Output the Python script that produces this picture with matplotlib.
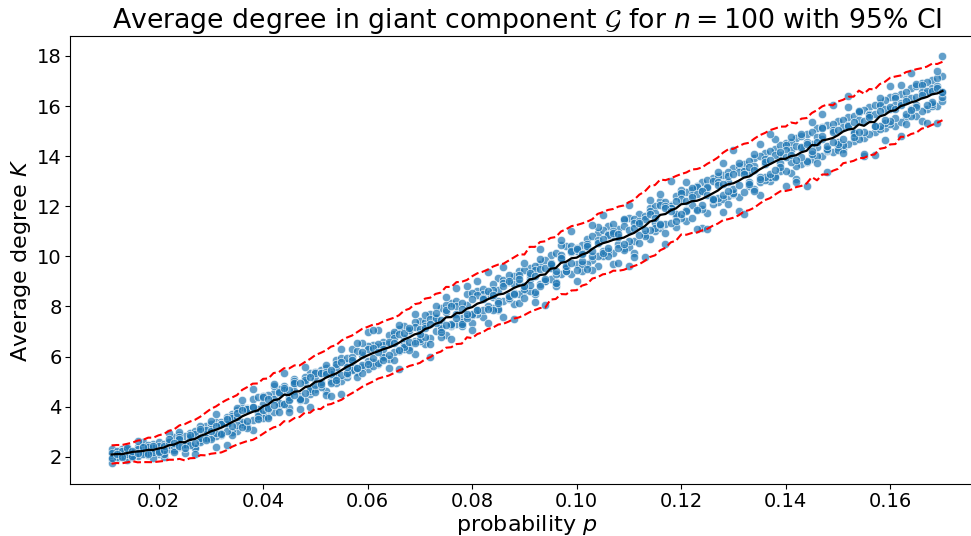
import numpy as np
import pandas as pd
import matplotlib
matplotlib.use("Agg")
import matplotlib.pyplot as plt

# edge probabilities p (x axis)
p_values = [
    0.011, 0.012, 0.013, 0.014, 0.015, 0.016, 0.017, 0.018, 0.019, 0.020,
    0.021, 0.022, 0.023, 0.024, 0.025, 0.026, 0.027, 0.028, 0.029, 0.030,
    0.031, 0.032, 0.033, 0.034, 0.035, 0.036, 0.037, 0.038, 0.039, 0.040,
    0.041, 0.042, 0.043, 0.044, 0.045, 0.046, 0.047, 0.048, 0.049, 0.050,
    0.051, 0.052, 0.053, 0.054, 0.055, 0.056, 0.057, 0.058, 0.059, 0.060,
    0.061, 0.062, 0.063, 0.064, 0.065, 0.066, 0.067, 0.068, 0.069, 0.070,
    0.071, 0.072, 0.073, 0.074, 0.075, 0.076, 0.077, 0.078, 0.079, 0.080,
    0.081, 0.082, 0.083, 0.084, 0.085, 0.086, 0.087, 0.088, 0.089, 0.090,
    0.091, 0.092, 0.093, 0.094, 0.095, 0.096, 0.097, 0.098, 0.099, 0.100,
    0.101, 0.102, 0.103, 0.104, 0.105, 0.106, 0.107, 0.108, 0.109, 0.110,
    0.111, 0.112, 0.113, 0.114, 0.115, 0.116, 0.117, 0.118, 0.119, 0.120,
    0.121, 0.122, 0.123, 0.124, 0.125, 0.126, 0.127, 0.128, 0.129, 0.130,
    0.131, 0.132, 0.133, 0.134, 0.135, 0.136, 0.137, 0.138, 0.139, 0.140,
    0.141, 0.142, 0.143, 0.144, 0.145, 0.146, 0.147, 0.148, 0.149, 0.150,
    0.151, 0.152, 0.153, 0.154, 0.155, 0.156, 0.157, 0.158, 0.159, 0.160,
    0.161, 0.162, 0.163, 0.164, 0.165, 0.166, 0.167, 0.168, 0.169, 0.170,
]

# average degree K of the giant component, one list per simulation run
run_1 = [
    2.21, 1.95, 2.30, 2.02, 2.11, 2.41, 2.15, 2.06, 2.52, 2.29,
    2.18, 2.61, 2.35, 2.88, 2.47, 2.95, 2.41, 2.69, 3.25, 2.78,
    3.41, 2.86, 3.35, 3.70, 3.05, 3.98, 3.22, 4.31, 3.55, 4.12,
    3.62, 4.55, 4.02, 4.81, 4.30, 5.12, 4.44, 4.28, 5.35, 4.71,
    5.48, 4.62, 5.39, 5.88, 5.02, 5.74, 6.31, 5.40, 6.05, 5.51,
    6.48, 5.71, 6.60, 5.92, 6.89, 6.21, 7.22, 6.38, 6.64, 7.41,
    6.52, 7.71, 7.02, 7.95, 6.88, 8.12, 7.30, 7.55, 8.49, 7.36,
    8.61, 7.58, 8.49, 7.92, 9.15, 8.21, 8.97, 8.10, 9.42, 8.60,
    9.55, 8.49, 9.71, 9.02, 10.05, 8.96, 9.88, 10.41, 9.31, 10.22,
    9.41, 10.68, 9.85, 10.92, 10.03, 11.22, 10.15, 11.08, 10.33, 11.52,
    10.62, 11.70, 10.88, 11.95, 11.02, 12.21, 11.28, 12.05, 11.19, 12.48,
    11.41, 12.66, 11.90, 12.95, 11.72, 13.12, 12.18, 13.25, 12.40, 13.51,
    12.38, 13.70, 12.81, 13.91, 12.95, 14.11, 13.02, 14.29, 13.40, 14.52,
    13.33, 14.72, 13.68, 14.88, 13.90, 15.12, 14.02, 15.25, 14.18, 15.41,
    14.30, 15.55, 14.62, 15.80, 14.71, 15.98, 14.95, 16.11, 15.12, 16.35,
    15.20, 16.48, 15.55, 16.70, 15.61, 16.90, 15.88, 17.05, 16.02, 17.21,
]
run_2 = [
    1.92, 2.18, 2.05, 2.27, 1.98, 2.12, 2.45, 2.20, 2.14, 2.60,
    2.52, 2.30, 2.78, 2.40, 2.85, 2.55, 3.05, 2.61, 2.93, 3.31,
    2.82, 3.40, 3.61, 2.98, 3.85, 3.30, 3.95, 3.48, 4.40, 3.72,
    4.45, 3.80, 4.71, 4.12, 3.95, 4.90, 4.35, 5.18, 4.52, 5.40,
    4.80, 5.55, 5.01, 5.20, 5.95, 5.18, 5.50, 6.22, 5.60, 6.41,
    5.80, 6.40, 6.02, 6.88, 6.20, 7.10, 6.32, 7.01, 7.38, 6.62,
    7.40, 6.75, 7.60, 7.12, 8.05, 7.22, 8.20, 7.40, 7.62, 8.55,
    7.70, 8.70, 8.00, 8.90, 7.85, 9.05, 8.30, 9.20, 8.50, 9.45,
    8.62, 9.60, 8.90, 9.85, 9.10, 10.12, 9.30, 9.55, 10.40, 9.68,
    10.45, 9.70, 10.80, 9.60, 11.05, 10.20, 11.30, 10.50, 11.45, 10.38,
    11.50, 10.52, 11.62, 10.70, 12.01, 11.12, 12.18, 11.35, 12.40, 11.55,
    12.55, 11.55, 12.80, 11.90, 13.05, 12.10, 13.20, 12.28, 13.35, 12.50,
    13.60, 12.55, 13.82, 12.70, 14.02, 13.05, 14.20, 13.22, 14.45, 13.40,
    14.55, 13.60, 14.80, 13.75, 14.95, 14.02, 15.15, 14.20, 15.30, 14.38,
    15.45, 14.50, 15.62, 14.70, 15.85, 14.90, 16.05, 15.10, 16.22, 15.28,
    16.40, 15.35, 16.55, 15.60, 16.78, 15.80, 16.95, 16.02, 17.10, 16.20,
]
run_3 = [
    2.32, 2.05, 2.22, 1.88, 2.19, 2.02, 2.59, 2.17, 2.36, 2.10,
    2.01, 2.47, 2.26, 2.99, 2.47, 2.75, 2.37, 3.22, 2.78, 3.13,
    3.71, 2.94, 3.33, 2.88, 3.94, 3.39, 3.91, 3.07, 3.92, 3.57,
    3.54, 4.81, 4.14, 4.65, 3.79, 4.62, 4.26, 5.58, 4.64, 5.11,
    5.36, 4.45, 5.31, 4.93, 6.32, 5.32, 5.80, 5.18, 6.53, 5.82,
    5.61, 7.06, 6.00, 6.50, 5.85, 7.25, 6.50, 7.05, 6.10, 7.00,
    7.22, 6.49, 8.01, 7.17, 7.77, 6.71, 7.70, 7.24, 8.83, 7.66,
    7.87, 8.49, 7.36, 8.39, 7.91, 9.57, 8.34, 8.90, 8.13, 9.74,
    9.09, 8.59, 10.30, 9.02, 9.60, 8.80, 10.46, 9.54, 10.18, 9.02,
    9.71, 10.31, 9.47, 11.18, 10.22, 10.88, 9.68, 10.77, 10.25, 12.03,
    10.14, 11.30, 10.83, 12.23, 11.34, 12.06, 10.48, 12.01, 11.61, 12.64,
    12.96, 12.04, 12.77, 11.14, 12.71, 12.30, 13.36, 11.79, 12.98, 12.51,
    11.80, 13.42, 12.98, 14.07, 12.46, 13.68, 13.18, 14.67, 13.71, 14.46,
    14.78, 13.10, 14.34, 13.82, 15.35, 14.35, 15.12, 13.38, 15.03, 14.58,
    14.46, 15.98, 14.98, 15.75, 14.02, 15.67, 15.22, 16.33, 14.65, 15.89,
    16.32, 14.79, 16.26, 15.87, 16.87, 15.40, 16.51, 16.06, 17.41, 16.54,
]
run_4 = [
    1.74, 2.24, 2.05, 2.41, 1.98, 2.62, 2.19, 2.47, 1.96, 2.44,
    2.11, 2.97, 2.44, 2.79, 2.17, 2.81, 2.13, 3.04, 2.75, 3.43,
    2.41, 3.32, 2.48, 3.62, 3.27, 4.25, 3.14, 4.70, 3.78, 4.43,
    3.90, 4.90, 3.78, 5.33, 4.38, 5.02, 3.90, 5.00, 3.97, 5.33,
    4.97, 5.65, 4.44, 5.60, 4.50, 5.94, 5.47, 6.53, 5.33, 6.97,
    7.06, 5.76, 6.45, 5.55, 7.00, 5.50, 6.75, 6.25, 7.70, 6.70,
    7.66, 5.99, 7.35, 6.79, 8.38, 7.26, 8.74, 7.30, 8.06, 7.06,
    9.03, 7.85, 9.39, 7.87, 8.66, 7.60, 9.27, 7.51, 8.95, 8.35,
    9.27, 8.17, 9.88, 8.06, 9.54, 8.92, 10.64, 9.42, 11.02, 9.44,
    10.14, 9.50, 11.26, 10.00, 11.65, 10.01, 10.86, 9.72, 11.49, 9.61,
    9.96, 11.42, 9.96, 11.80, 11.15, 12.49, 10.92, 13.00, 11.68, 12.52,
    11.87, 12.74, 11.10, 12.61, 11.11, 13.00, 12.33, 13.71, 12.09, 14.23,
    13.72, 11.70, 13.31, 12.62, 14.50, 13.15, 14.90, 13.15, 14.04, 12.81,
    14.23, 12.96, 14.89, 12.80, 14.47, 13.74, 15.67, 14.26, 16.05, 14.24,
    14.12, 16.39, 14.91, 15.82, 14.08, 15.67, 14.06, 16.05, 15.33, 16.78,
    15.54, 16.83, 15.30, 17.31, 16.03, 16.84, 15.31, 16.72, 15.31, 17.98,
]
run_5 = [
    2.15, 1.98, 2.25, 2.10, 2.05, 2.30, 2.12, 2.40, 2.18, 2.25,
    2.45, 2.58, 2.20, 2.70, 2.52, 2.48, 2.90, 2.75, 3.08, 2.72,
    2.95, 3.30, 3.05, 3.55, 3.60, 3.20, 3.90, 3.98, 3.62, 3.85,
    3.95, 4.30, 4.55, 4.10, 4.65, 4.95, 4.30, 5.05, 4.70, 4.60,
    5.35, 5.40, 4.95, 5.70, 5.25, 5.35, 6.00, 5.55, 5.65, 6.30,
    5.95, 6.50, 6.30, 6.05, 6.75, 6.90, 6.40, 6.60, 7.20, 7.10,
    6.80, 7.50, 7.55, 7.00, 7.85, 7.30, 8.00, 8.15, 7.55, 7.70,
    8.45, 8.35, 7.90, 8.65, 8.20, 8.95, 8.40, 8.55, 9.25, 8.70,
    8.85, 9.45, 9.50, 9.10, 9.75, 9.30, 10.05, 9.40, 10.20, 10.35,
    9.80, 10.50, 10.00, 10.65, 10.15, 10.85, 11.00, 10.35, 11.20, 10.60,
    11.35, 10.85, 11.50, 11.05, 11.75, 11.25, 12.00, 11.95, 11.40, 12.30,
    11.80, 12.45, 12.50, 12.05, 12.75, 12.25, 12.95, 12.45, 13.20, 12.70,
    13.35, 13.40, 12.90, 13.60, 13.15, 13.90, 13.30, 14.05, 13.55, 14.25,
    13.75, 14.40, 13.95, 14.55, 14.10, 14.75, 14.70, 14.30, 14.95, 14.50,
    15.15, 15.25, 14.75, 15.45, 14.95, 15.65, 15.70, 15.20, 15.90, 15.40,
    16.05, 16.10, 15.70, 16.30, 15.95, 16.55, 16.60, 16.15, 16.80, 16.35,
]
run_6 = [
    1.95, 2.12, 2.00, 2.35, 2.22, 2.15, 2.38, 2.10, 2.42, 2.20,
    2.28, 2.70, 2.55, 2.45, 2.35, 2.88, 2.55, 3.10, 2.68, 3.05,
    3.25, 2.90, 3.50, 3.25, 3.75, 3.85, 3.45, 4.00, 3.50, 4.40,
    4.30, 4.05, 4.60, 4.75, 4.25, 4.45, 4.95, 4.55, 5.20, 4.85,
    4.90, 5.30, 5.45, 5.05, 5.80, 5.60, 5.85, 5.55, 6.20, 5.70,
    6.35, 6.20, 5.85, 6.60, 6.55, 6.25, 6.95, 7.15, 6.55, 6.90,
    7.15, 7.30, 7.75, 7.45, 7.25, 8.00, 7.55, 7.90, 7.70, 8.30,
    7.85, 8.30, 8.60, 8.45, 8.15, 8.80, 9.00, 8.50, 9.10, 8.80,
    9.35, 9.20, 8.80, 9.55, 9.70, 9.40, 9.95, 9.60, 9.75, 10.30,
    10.10, 10.40, 10.20, 10.55, 10.70, 10.35, 10.95, 10.90, 10.50, 11.05,
    11.15, 11.35, 11.05, 11.70, 11.55, 11.30, 11.95, 11.80, 12.20, 11.70,
    12.20, 12.35, 11.85, 12.60, 12.45, 12.30, 12.85, 12.90, 12.60, 13.30,
    12.85, 13.30, 13.55, 13.45, 13.10, 13.75, 13.85, 13.45, 14.15, 13.95,
    14.05, 13.85, 14.35, 14.50, 14.20, 14.55, 14.80, 14.40, 14.55, 15.05,
    14.70, 15.20, 15.35, 14.95, 15.40, 15.55, 15.20, 15.80, 15.45, 15.95,
    15.90, 16.05, 16.20, 15.85, 16.35, 16.45, 16.05, 16.60, 16.70, 16.55,
]

runs = np.vstack([run_1, run_2, run_3, run_4, run_5, run_6])
p_arr = np.array(p_values)

# mean line and mean +/- 1.96 sd, pooled over neighbouring p values
mean_k, low_k, high_k = [], [], []
for i in range(len(p_arr)):
    m = runs[:, max(0, i - 2):i + 3].mean()
    sd = runs[:, max(0, i - 6):i + 7].std(ddof=1)
    mean_k.append(m)
    low_k.append(m - 1.96 * sd)
    high_k.append(m + 1.96 * sd)

df = pd.DataFrame({"p": np.tile(p_arr, runs.shape[0]), "K": runs.ravel()})

fig = plt.figure(figsize=(9.71, 5.36), dpi=100)
ax = fig.add_axes([0.0721, 0.097, 0.9413, 0.8358])
ax.scatter(df["p"], df["K"], s=36, color="#1f77b4", alpha=0.7,
           edgecolor="white", linewidth=0.6, zorder=2)
ax.plot(p_arr, mean_k, color="black", lw=1.6, zorder=3)
ax.plot(p_arr, low_k, color="red", ls="--", lw=1.5, zorder=3)
ax.plot(p_arr, high_k, color="red", ls="--", lw=1.5, zorder=3)

ax.set_title(r"Average degree in giant component $\mathcal{G}$ for $n = 100$ with 95% CI",
             fontsize=19.3)
ax.set_xlabel(r"probability $p$", fontsize=16, labelpad=1)
ax.set_ylabel(r"Average degree $K$", fontsize=16, labelpad=3)
ax.tick_params(labelsize=14, pad=2.5)
ax.set_xticks([0.02, 0.04, 0.06, 0.08, 0.10, 0.12, 0.14, 0.16])
ax.set_yticks([2, 4, 6, 8, 10, 12, 14, 16, 18])

fig.savefig("out.png", dpi=100)
